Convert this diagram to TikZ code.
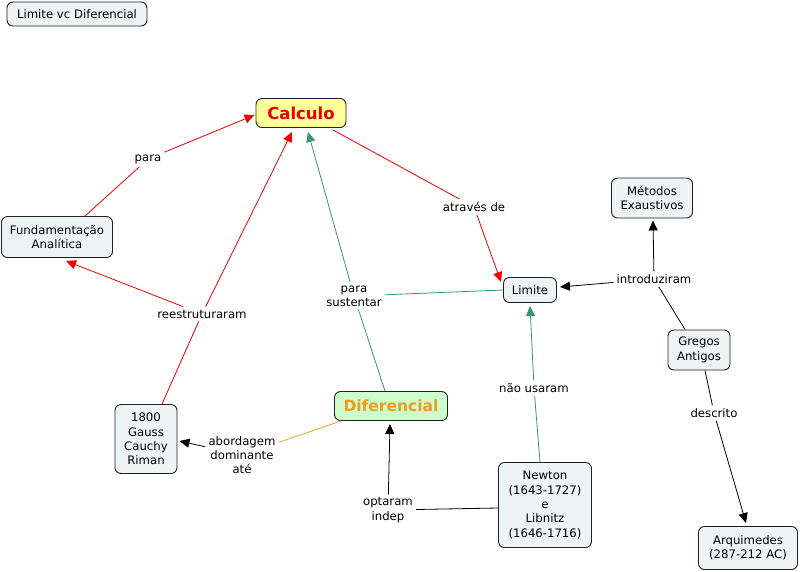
\documentclass[tikz,border=0pt]{standalone}
\usepackage{fontspec}
\setmainfont{DejaVu Sans}
\usetikzlibrary{arrows.meta,calc}
\definecolor{nodefill}{HTML}{EEF3F6}
\definecolor{cred}{HTML}{F00000}
\definecolor{cgreen}{HTML}{3A9470}
\definecolor{corange}{HTML}{E8A030}
\definecolor{calcfill}{HTML}{FFFF99}
\definecolor{diffill}{HTML}{CCFFCC}
\definecolor{diftext}{HTML}{F29A1E}
\definecolor{calctext}{HTML}{E80000}
\definecolor{bordercol}{HTML}{202020}
\begin{document}
\begin{tikzpicture}[x=1pt,y=-1pt,
  concept/.style={draw=bordercol, line width=0.9pt, rounded corners=6pt, fill=nodefill,
    align=center, inner sep=0pt, font=\fontsize{11.7}{14.3}\selectfont},
  phrase/.style={align=center, inner sep=3pt, font=\fontsize{11.7}{14.3}\selectfont},
  link/.style={line width=0.8pt},
  arrowtip/.style={-{Triangle[length=10pt,width=9pt]}},
]
\useasboundingbox (0,0) rectangle (800,571);
\fill[white] (0,0) rectangle (800,571);

% concepts
\node[concept, minimum width=140pt, minimum height=24pt] (title) at (77,14) {Limite vc Diferencial};
\node[concept, fill=calcfill, minimum width=90pt, minimum height=29pt,
      font=\fontsize{16.5}{18}\selectfont\bfseries, text=calctext] (calc) at (301,113) {Calculo};
\node[concept, minimum width=111pt, minimum height=41pt] (fund) at (57,237) {Fundamentação\\Analítica};
\node[concept, minimum width=81pt, minimum height=40pt] (metod) at (652,198) {Métodos\\Exaustivos};
\node[concept, minimum width=53pt, minimum height=25pt] (limite) at (530,290) {Limite};
\node[concept, minimum width=62pt, minimum height=40pt] (gregos) at (699,350) {Gregos\\Antigos};
\node[concept, fill=diffill, minimum width=113pt, minimum height=29pt,
      font=\fontsize{15.5}{18}\selectfont\bfseries, text=diftext] (dif) at (391,406) {Diferencial};
\node[concept, minimum width=62pt, minimum height=69pt] (gauss) at (146,439) {1800\\Gauss\\Cauchy\\Riman};
\node[concept, minimum width=93pt, minimum height=85pt] (newton) at (545,505) {Newton\\(1643-1727)\\e\\Libnitz\\(1646-1716)};
\node[concept, minimum width=99pt, minimum height=43pt] (arq) at (748,548) {Arquimedes\\(287-212 AC)};

% linking phrases
\node[phrase] (lpara) at (148,159) {para};
\node[phrase] (latraves) at (474,207) {através de};
\node[phrase] (lintro) at (654,279) {introduziram};
\node[phrase] (lsust) at (354,296) {para\\sustentar};
\node[phrase] (lreest) at (202,314) {reestruturaram};
\node[phrase] (ldescr) at (714,413) {descrito};
\node[phrase] (lnao) at (534,388) {não usaram};
\node[phrase] (labord) at (242,455) {abordagem\\dominante\\até};
\node[phrase] (lopt) at (388,510) {optaram\\indep};

% red connectors
\draw[link, cred] ($(fund.north)+(28,0)$) -- (lpara);
\draw[link, cred, arrowtip] (lpara) -- ($(calc.west)+(-1,2)$);
\draw[link, cred] ($(calc.south)+(32,2)$) -- (latraves);
\draw[link, cred, arrowtip] (latraves) -- ($(limite.north west)+(-2,5)$);
\draw[link, cred] ($(gauss.north)+(16,0)$) -- (lreest);
\draw[link, cred, arrowtip] (lreest) -- ($(calc.south)+(-9,4)$);
\draw[link, cred, arrowtip] (lreest) -- ($(fund.south)+(9,3)$);

% green connectors
\draw[link, cgreen] ($(dif.north)+(-6,0)$) -- (lsust);
\draw[link, cgreen, arrowtip] (lsust) -- ($(calc.south)+(7,4)$);
\draw[link, cgreen] (lsust) -- (limite.west);
\draw[link, cgreen] ($(newton.north)+(-5,0)$) -- (lnao);
\draw[link, cgreen, arrowtip] (lnao) -- ($(limite.south)+(0,3)$);

% orange / black connectors
\draw[link, corange] ($(dif.south west)+(7,0)$) -- (labord);
\draw[link, black, arrowtip] (labord) -- ($(gauss.east)+(2,2)$);
\draw[link, black] ($(newton.west)+(0,3)$) -- (lopt);
\draw[link, black, arrowtip] (lopt) -- ($(dif.south)+(-1,3)$);
\draw[link, black] ($(gregos.north)+(-14,0)$) -- (lintro);
\draw[link, black, arrowtip] (lintro) -- ($(limite.east)+(3,-3)$);
\draw[link, black, arrowtip] (lintro) -- ($(metod.south)+(1,2)$);
\draw[link, black] ($(gregos.south)+(6,0)$) -- (ldescr);
\draw[link, black, arrowtip] (ldescr) -- ($(arq.north)+(-2,-3)$);
\end{tikzpicture}
\end{document}
